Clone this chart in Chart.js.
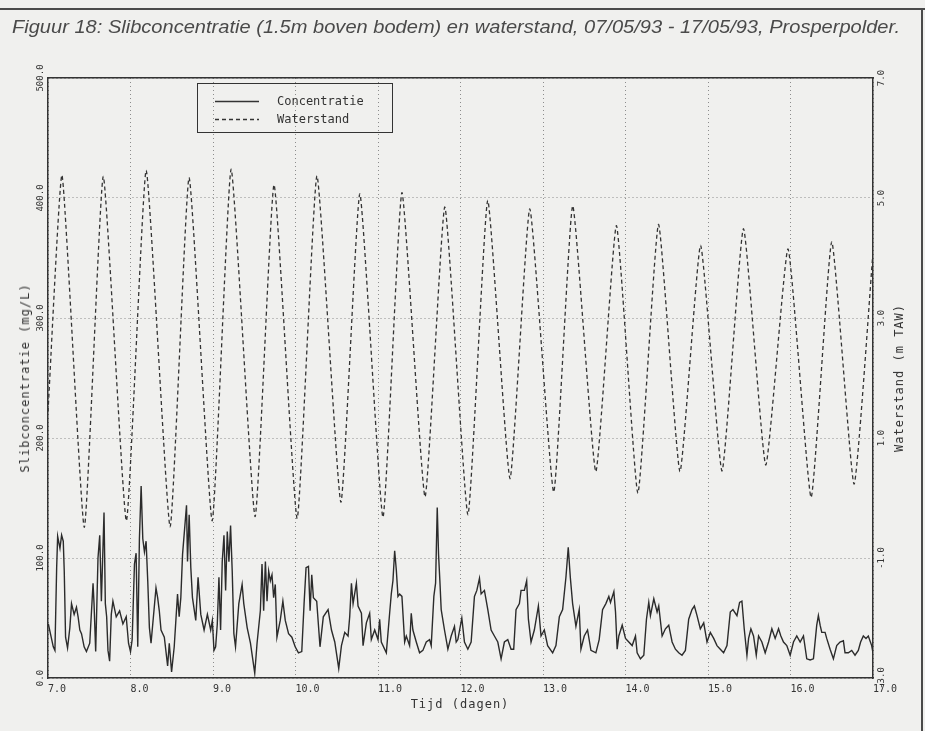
<!DOCTYPE html>
<html>
<head>
<meta charset="utf-8">
<script src="https://cdn.jsdelivr.net/npm/chart.js@4.4.1/dist/chart.umd.min.js"></script>
<style>
  html, body { margin: 0; padding: 0; background: #f0f0ee; }
  #wrap { position: relative; width: 925px; height: 731px; overflow: hidden; background: #f0f0ee; }
  #c { position: absolute; left: 0; top: 0; }
  .frame-top { position: absolute; left: 0; top: 8px; width: 925px; height: 2px; background: #4a4a4a; }
  .frame-right { position: absolute; left: 921px; top: 8px; width: 2px; height: 723px; background: #4a4a4a; }
  #title { position: absolute; left: 12px; top: 17px; font: italic 18px "Liberation Sans", Arial, sans-serif;
           color: #4a4a4a; white-space: nowrap; transform-origin: 0 0; }
  .axt { position: absolute; font: 12px "DejaVu Sans Mono", monospace; letter-spacing: 1px; color: #333; white-space: nowrap; }
  .rot { transform: translate(-50%, -50%) rotate(-90deg); }
  .hor { transform: translate(-50%, -50%); }
  #legend { position: absolute; left: 197px; top: 83px; width: 196px; height: 50px;
            border: 1.5px solid #333; box-sizing: border-box; }
  #legend svg { position: absolute; left: 0; top: 0; }
  #legend .lt { position: absolute; left: 79px; font: 12px "DejaVu Sans Mono", monospace; color: #333; }
</style>
</head>
<body>
<div id="wrap">
  <canvas id="c" width="925" height="731"></canvas>
  <div class="frame-top"></div>
  <div class="frame-right"></div>
  <div id="title">Figuur 18: Slibconcentratie (1.5m boven bodem) en waterstand, 07/05/93 - 17/05/93, Prosperpolder.</div>
  <div class="axt rot" style="left:25px; top:378px;">Slibconcentratie (mg/L)</div>
  <div class="axt rot" style="left:899px; top:378px;">Waterstand (m TAW)</div>
  <div class="axt hor" style="left:460px; top:704px;">Tijd (dagen)</div>
  <div id="legend">
    <svg width="196" height="50">
      <line x1="17" y1="17.5" x2="61" y2="17.5" stroke="#333" stroke-width="1.3"/>
      <line x1="17" y1="35.5" x2="61" y2="35.5" stroke="#333" stroke-width="1.3" stroke-dasharray="4 3"/>
    </svg>
    <div class="lt" style="top:10px;">Concentratie</div>
    <div class="lt" style="top:28px;">Waterstand</div>
  </div>
</div>
<script>
// Axis tick positions
const dagen = [7, 8, 9, 10, 11, 12, 13, 14, 15, 16, 17];
const slibTicks = [0, 100, 200, 300, 400, 500];
const waterTicks = [-3, -1, 1, 3, 5, 7];

// Waterstand (m TAW): successive high and low waters, [dag, niveau]
const waterstand = [
  [7.00, 1.44], [7.17, 5.38], [7.44, -0.49], [7.67, 5.36], [7.95, -0.38],
  [8.19, 5.46], [8.48, -0.48], [8.71, 5.34], [8.99, -0.38], [9.22, 5.48],
  [9.51, -0.31], [9.74, 5.22], [10.02, -0.34], [10.26, 5.37], [10.55, -0.07],
  [10.78, 5.07], [11.06, -0.32], [11.29, 5.09], [11.57, 0.02], [11.81, 4.85],
  [12.09, -0.28], [12.33, 4.96], [12.60, 0.32], [12.84, 4.82], [13.13, 0.10],
  [13.36, 4.87], [13.64, 0.44], [13.89, 4.54], [14.15, 0.08], [14.40, 4.56],
  [14.66, 0.44], [14.91, 4.21], [15.17, 0.45], [15.43, 4.49], [15.70, 0.55],
  [15.97, 4.15], [16.25, 0.01], [16.50, 4.27], [16.77, 0.23], [17.00, 4.10]
];

// Slibconcentratie (mg/L) 1.5 m boven bodem, [dag, waarde]
const concentratie = [
  [7.004,45],[7.064,26],[7.084,23],[7.105,92],[7.117,118],[7.145,108],[7.165,119],[7.185,114],[7.197,89],[7.213,34],
  [7.237,25],[7.265,42],[7.285,62],[7.317,53],[7.345,59],[7.365,51],[7.386,40],[7.406,37],[7.438,26],[7.466,22],
  [7.506,29],[7.546,79],[7.558,62],[7.578,22],[7.606,100],[7.627,119],[7.647,64],[7.679,138],[7.695,62],[7.711,51],
  [7.727,23],[7.747,14],[7.767,53],[7.787,64],[7.827,51],[7.868,56],[7.908,45],[7.948,51],[7.976,29],[8.000,22],
  [8.020,32],[8.048,95],[8.068,104],[8.088,26],[8.108,116],[8.129,160],[8.149,116],[8.169,105],[8.189,114],[8.209,81],
  [8.229,42],[8.249,29],[8.309,75],[8.329,67],[8.349,56],[8.370,40],[8.410,34],[8.450,10],[8.470,29],[8.498,5],
  [8.530,26],[8.570,70],[8.590,51],[8.610,67],[8.631,103],[8.679,144],[8.691,97],[8.711,136],[8.731,92],[8.751,67],
  [8.791,48],[8.819,84],[8.852,53],[8.892,40],[8.932,53],[8.972,40],[8.992,48],[9.012,23],[9.032,26],[9.052,45],
  [9.072,84],[9.092,40],[9.112,97],[9.133,119],[9.153,73],[9.173,122],[9.193,97],[9.213,127],[9.233,89],[9.253,37],
  [9.273,26],[9.313,62],[9.353,78],[9.373,62],[9.414,42],[9.454,29],[9.506,4],[9.534,29],[9.574,56],[9.594,95],
  [9.614,56],[9.635,97],[9.655,64],[9.675,89],[9.695,81],[9.715,86],[9.735,67],[9.755,78],[9.775,34],[9.815,48],
  [9.847,64],[9.876,48],[9.916,37],[9.956,34],[9.996,26],[10.036,21],[10.076,22],[10.104,62],[10.128,92],[10.157,93],
  [10.177,56],[10.197,86],[10.217,67],[10.257,64],[10.297,26],[10.337,51],
  [10.395,57],[10.436,40],[10.476,30],[10.524,8],[10.557,27],[10.597,38],[10.637,35],[10.657,51],[10.678,79],[10.698,62],
  [10.738,79],[10.758,60],[10.799,54],[10.819,27],[10.859,46],[10.899,54],[10.919,32],[10.960,40],[11.000,32],[11.020,49],
  [11.040,30],[11.101,21],[11.141,54],[11.161,70],[11.181,81],[11.202,106],[11.222,90],[11.242,68],[11.262,70],[11.290,68],
  [11.323,30],[11.343,35],[11.383,27],[11.403,54],[11.423,40],[11.464,30],[11.504,21],[11.544,23],[11.585,30],[11.625,32],
  [11.645,27],[11.677,68],[11.698,79],[11.718,142],[11.734,103],[11.750,81],[11.766,57],[11.806,40],[11.847,24],[11.887,35],
  [11.927,43],[11.948,30],[11.968,32],[12.016,50],[12.048,30],[12.089,24],[12.129,30],[12.169,68],[12.198,73],[12.230,83],
  [12.250,70],[12.290,73],[12.331,57],[12.371,40],[12.411,35],[12.452,30],[12.492,16],[12.532,30],[12.573,32],[12.613,24],
  [12.645,24],[12.673,57],[12.714,62],[12.734,73],[12.774,73],[12.802,81],[12.823,49],[12.855,30],[12.895,40],[12.944,60],
  [12.976,35],[13.016,40],[13.056,27],[13.117,21],[13.157,27],[13.198,51],[13.238,57],[13.278,84],[13.306,109],[13.331,84],
  [13.359,62],[13.399,43],[13.439,57],[13.460,24],[13.500,35],[13.540,40],[13.581,23],[13.641,21],[13.681,32],[13.722,57],
  [13.762,62],
  [13.798,68],[13.818,63],[13.859,72],[13.879,55],[13.899,24],[13.919,35],[13.960,44],[14.000,33],[14.040,30],[14.081,27],
  [14.121,35],[14.141,21],[14.181,16],[14.222,19],[14.254,49],[14.282,63],[14.302,52],[14.343,66],[14.383,55],[14.403,60],
  [14.444,35],[14.484,41],[14.524,44],[14.565,30],[14.605,24],[14.645,21],[14.685,19],[14.726,23],[14.766,49],[14.806,57],
  [14.835,60],[14.867,52],[14.907,41],[14.948,46],[14.988,30],[15.028,38],[15.069,33],[15.109,27],[15.149,24],[15.189,21],
  [15.230,27],[15.270,55],[15.302,57],[15.351,52],[15.383,63],[15.411,64],[15.439,41],[15.472,19],[15.492,33],[15.520,41],
  [15.552,35],[15.585,19],[15.613,35],[15.653,30],[15.693,21],[15.734,30],[15.774,41],[15.814,33],[15.855,41],[15.883,35],
  [15.915,30],[15.955,27],[15.996,19],[16.036,30],[16.076,35],[16.117,30],[16.157,35],[16.197,16],[16.238,15],[16.278,16],
  [16.318,44],[16.338,52],[16.359,44],[16.379,38],[16.419,38],[16.439,33],[16.480,24],[16.520,16],[16.560,27],[16.600,30],
  [16.641,31],[16.661,21],[16.701,21],[16.742,23],[16.782,19],[16.822,23],[16.850,30],[16.883,35],[16.915,33],[16.943,35],
  [16.984,27],[17.000,21]
];

// Stretch the caption to the full width of the figure frame
(function fitTitle() {
  const t = document.getElementById('title');
  const w = t.getBoundingClientRect().width;
  t.style.transform = 'scaleX(' + (888 / w) + ')';
})();

const xTickFont = { family: '"DejaVu Sans Mono", monospace', size: 10 };
const yTickFont = { family: '"DejaVu Sans Mono", monospace', size: 9 };
const ink = '#333';
const fixed1 = v => Number(v).toFixed(1);

new Chart(document.getElementById('c'), {
  type: 'line',
  data: {
    datasets: [
      {
        label: 'Concentratie',
        data: concentratie.map(([x, y]) => ({ x, y })),
        yAxisID: 'y',
        borderColor: '#2b2b2b',
        borderWidth: 1.4,
        pointRadius: 0,
        tension: 0
      },
      {
        label: 'Waterstand',
        data: waterstand.map(([x, y]) => ({ x, y })),
        yAxisID: 'y2',
        borderColor: '#333',
        borderWidth: 1.3,
        borderDash: [4, 3],
        pointRadius: 0,
        tension: 0.15
      }
    ]
  },
  options: {
    responsive: false,
    animation: false,
    devicePixelRatio: 1,
    layout: { padding: { top: 78, left: 0, right: 0, bottom: 0 } },
    plugins: { legend: { display: false }, title: { display: false }, tooltip: { enabled: false } },
    scales: {
      x: {
        type: 'linear', position: 'bottom', min: 7, max: 17,
        afterBuildTicks: s => { s.ticks = dagen.map(v => ({ value: v })); },
        afterFit: s => { s.height = 53; },
        ticks: { font: xTickFont, color: ink, align: 'start', padding: 5, autoSkip: false, maxRotation: 0, callback: fixed1 },
        grid: { color: '#8c8c8c', lineWidth: 1, drawTicks: false },
        border: { display: true, color: ink, width: 1.5, dash: [1, 3] }
      },
      x2: {
        type: 'linear', position: 'top', min: 7, max: 17,
        afterFit: s => { s.height = 0; },
        ticks: { display: false },
        grid: { display: false, drawTicks: false },
        border: { display: true, color: ink, width: 1.5 }
      },
      y: {
        type: 'linear', position: 'left', min: 0, max: 500,
        afterBuildTicks: s => { s.ticks = slibTicks.map(v => ({ value: v })); },
        afterFit: s => { s.width = 48; },
        ticks: { font: yTickFont, color: ink, minRotation: 90, maxRotation: 90, crossAlign: 'center', padding: -6, autoSkip: false, callback: fixed1 },
        grid: { color: '#8c8c8c', lineWidth: 1, drawTicks: false },
        border: { display: true, color: ink, width: 1.5, dash: [1, 3] }
      },
      y2: {
        type: 'linear', position: 'right', min: -3, max: 7,
        afterBuildTicks: s => { s.ticks = waterTicks.map(v => ({ value: v })); },
        afterFit: s => { s.width = 52; },
        ticks: { font: yTickFont, color: ink, minRotation: 90, maxRotation: 90, crossAlign: 'center', padding: -2, autoSkip: false, callback: fixed1 },
        grid: { display: false, drawTicks: false },
        border: { display: true, color: ink, width: 1.5 }
      }
    }
  }
});
</script>
</body>
</html>
